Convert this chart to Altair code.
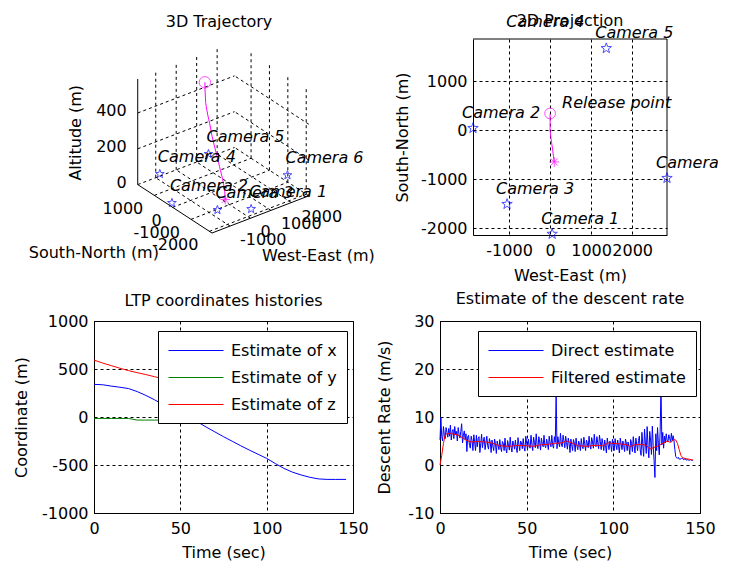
import math
import altair as alt
import numpy as np
import pandas as pd

FONT = "DejaVu Sans"
FS = 16
BLUE, GREEN, RED, MAGENTA = "#0000ff", "#008000", "#ff0000", "#ff00ff"

# ------------------------------------------------------------------ data
cam_names = ["Camera 1", "Camera 2", "Camera 3", "Camera 4", "Camera 5", "Camera 6"]
cam_east = [50, -1880, -1050, -800, 1370, 2850]
cam_north = [-2120, 40, -1510, 1900, 1670, -980]
cam_alt = [48, 22, 50, 12, 44, 38]

ltp_t = [0, 5, 10, 15, 20, 25, 30, 35, 40, 45, 50, 55, 60, 65, 70, 75, 80, 85, 90, 95,
         100, 105, 110, 115, 120, 125, 130, 135, 140, 146]
ltp_x = [340, 336, 322, 310, 296, 265, 225, 180, 130, 80, 30, -12, -52, -105, -155, -205,
         -252, -300, -345, -388, -431, -485, -535, -575, -604, -628, -645, -650, -650, -650]
ltp_y = [-15, -15, -15, -15, -15, -32, -32, -32, -32, -32, -32, -32, -32, -32, -12, -10,
         -2, -2, -2, -2, -2, -2, -2, -2, -2, -2, -2, -2, -2, -2]
ltp_z = [593, 562, 535, 508, 483, 462, 442, 420, 400, 380, 358, 335, 315, 292, 270, 250,
         230, 210, 190, 170, 150, 128, 105, 85, 65, 45, 25, 8, 0, 0]
traj_east = [0, 0, 0, 0, 0, 0, 0, 0, 0, 0, 0, 0, 5, 12, 20, 28, 36, 44, 52, 60, 67, 75,
             82, 88, 93, 97, 99, 100, 100, 100]

# direct descent-rate estimate, one value every 0.5 s from t = 0
rate_direct = [
    5.2, 10.0, 6.0, 5.0, 8.0, 6.2, 5.5, 7.8, 6.8, 5.8,
    7.6, 6.0, 8.3, 5.2, 6.9, 7.4, 5.5, 8.0, 6.3, 7.0,
    5.0, 7.8, 6.4, 5.6, 7.0, 8.6, 4.6, 6.2, 7.1, 5.3,
    6.5, 2.8, 5.9, 6.2, 4.1, 3.5, 6.0, 5.1, 3.0, 6.3,
    4.8, 3.0, 6.2, 3.8, 5.5, 5.9, 2.6, 4.4, 6.4, 3.6,
    5.0, 5.8, 3.2, 4.6, 6.0, 4.0, 3.3, 5.5, 4.7, 2.6,
    5.2, 3.9, 3.0, 5.4, 4.4, 2.4, 5.0, 4.1, 3.2, 5.3,
    3.6, 2.8, 4.9, 4.5, 3.0, 5.6, 3.4, 2.5, 5.1, 4.2,
    3.1, 5.8, 3.8, 2.7, 5.0, 4.4, 3.3, 5.2, 3.6, 2.6,
    5.7, 4.3, 3.0, 5.0, 4.6, 3.4, 5.5, 3.7, 2.9, 6.0,
    4.5, 3.2, 5.4, 4.0, 3.5, 6.2, 4.3, 3.0, 5.8, 4.7,
    3.6, 6.5, 4.2, 3.4, 5.9, 4.8, 3.1, 5.6, 4.4, 3.8,
    6.2, 4.0, 3.6, 5.4, 4.5, 3.2, 6.0, 4.6, 3.8, 6.2,
    4.1, 3.5, 5.9, 4.7, 14.6, 3.4, 5.9, 4.6, 3.8, 6.6,
    4.4, 3.8, 6.2, 5.0, 3.6, 6.0, 4.7, 3.3, 5.6, 4.5,
    2.6, 5.4, 4.2, 3.0, 5.3, 4.6, 2.8, 5.6, 4.0, 3.2,
    5.0, 4.3, 3.0, 5.5, 3.9, 3.4, 5.8, 4.4, 3.0, 5.2,
    4.5, 3.6, 6.0, 4.2, 3.3, 5.7, 4.8, 3.5, 6.4, 4.3,
    3.8, 5.9, 4.6, 3.4, 6.2, 4.9, 3.2, 5.5, 4.4, 3.0,
    5.2, 4.1, 2.5, 5.6, 4.3, 3.2, 5.0, 4.5, 2.8, 5.4,
    4.0, 3.0, 5.5, 4.2, 3.2, 5.2, 3.9, 2.5, 5.6, 4.4,
    3.2, 5.0, 4.1, 2.8, 5.4, 4.6, 3.0, 4.8, 3.9, 2.2,
    5.3, 4.5, 2.8, 5.9, 4.0, 2.5, 5.6, 4.3, 3.0, 5.1,
    6.0, 3.1, 2.0, 6.8, 4.2, 1.8, 7.5, 4.6, 2.4, 8.0,
    3.9, 1.5, 7.0, 5.2, 2.2, 8.1, 4.0, 1.0, -2.6, 6.5,
    3.0, 7.8, 4.4, 2.1, 6.9, 16.2, 4.2, 6.8, 3.5, 6.0,
    4.6, 6.5, 5.2, 4.8, 6.3, 5.5, 4.9, 6.6, 5.0, 6.1,
    5.0, 3.2, 1.8, 1.5, 1.4, 1.6, 1.2, 1.3, 1.2, 1.4,
    1.4, 1.1, 1.2, 1.3, 1.0, 1.1, 1.1, 1.0, 1.0, 1.1,
    1.0, 1.0, 1.0]
RATE_STEP = 0.5
rate_t = [i * RATE_STEP for i in range(len(rate_direct))]

filt_t = [0, 1, 2, 3, 4, 6, 8, 10, 12, 14, 16, 18, 22, 26, 30, 34, 40, 46, 50, 54, 58, 62,
          66, 70, 73, 76, 80, 85, 90, 94, 97, 100, 104, 108, 110, 112, 116, 119, 121, 123,
          126, 129, 131, 133, 135, 136, 137, 138, 139, 140, 142, 144, 146]
filt_v = [0, 2.0, 4.5, 6.3, 6.5, 6.6, 6.4, 6.3, 5.9, 5.4, 5.0, 4.8, 4.9, 4.8, 4.6, 4.0, 3.9,
          4.1, 4.0, 3.9, 4.2, 4.3, 4.5, 4.6, 5.0, 4.6, 4.0, 3.9, 4.1, 4.0, 4.6, 4.5, 4.4, 4.2,
          3.8, 4.2, 4.3, 4.1, 3.3, 3.6, 4.0, 4.6, 5.0, 4.7, 5.3, 5.2, 4.5, 3.2, 2.0, 1.5, 1.3,
          1.2, 1.0]

ticks_we = [-1000, 0, 1000, 2000]
ticks_sn = [-2000, -1000, 0, 1000]
ticks_alt = [0, 200, 400]
ticks_time = [0, 50, 100, 150]
ticks_coord = [-1000, -500, 0, 500, 1000]
ticks_rate = [-10, 0, 10, 20, 30]

# ------------------------------------------------------------------ layout (page pixels)
EDGE = 10                                   # left / top edge of the drawing
PBX, PBY = 93, 321                          # LTP frame origin
WB1, WB2, HB = 259, 260, 192                # bottom panels
P3X, P3Y, W3, H3 = 93, 39, 259, 196         # 3D cell
COL2 = 439                                  # second grid column
P2X, W2, H2 = 472, 194, 196                 # 2D frame
INSET = P2X - COL2                          # 2D frame inset inside its cell
W2C = INSET + W2
COLSP = COL2 - (PBX + WB1)
ROWSP = PBY - (P3Y + H3)

X2D = (-1880, 2850)
Y2D = (-2140, 1860)

# 3D view (MATLAB default az=-37.5, el=30), normalised box
XL = (-1880, 2850)
YL = (-2140, 1900)
ZL = (0, 590)
FX, FY, S3 = 211.0, 233.0, 122.0
AZ, EL = -37.5, 30.0


def proj(x, y, z):
    u = (np.asarray(x, float) - XL[0]) / (XL[1] - XL[0])
    v = (np.asarray(y, float) - YL[0]) / (YL[1] - YL[0])
    w = (np.asarray(z, float) - ZL[0]) / (ZL[1] - ZL[0])
    az, el = math.radians(AZ), math.radians(EL)
    rx, ry = math.cos(az), math.sin(az)
    ux, uy, uz = -math.sin(el) * math.sin(az), math.sin(el) * math.cos(az), math.cos(el)
    px = FX + S3 * (rx * u + ry * v)
    py = FY - S3 * (ux * u + uy * v + uz * w)
    return px, py


def star_path():
    pts = []
    for k in range(10):
        a = -math.pi / 2 + k * math.pi / 5
        r = 1.0 if k % 2 == 0 else 0.40
        pts.append((r * math.cos(a), r * math.sin(a)))
    return "M" + "L".join(f"{x:.3f},{y:.3f}" for x, y in pts) + "Z"


STAR = star_path()
ASTER = "M-1,0L1,0M0,-1L0,1M-0.7,-0.7L0.7,0.7M-0.7,0.7L0.7,-0.7"

# ------------------------------------------------------------------ 3D panel (pixel scale)
SX = alt.Scale(domain=[P3X, P3X + W3], nice=False, zero=False)
SY = alt.Scale(domain=[P3Y, P3Y + H3], nice=False, zero=False, reverse=True)


def PXe(f):
    return alt.X(f, type="quantitative", scale=SX, axis=None)


def PYe(f):
    return alt.Y(f, type="quantitative", scale=SY, axis=None)


def seg_frame(segs):
    a = np.array(segs, float)
    p1x, p1y = proj(a[:, 0], a[:, 1], a[:, 2])
    p2x, p2y = proj(a[:, 3], a[:, 4], a[:, 5])
    return pd.DataFrame({"px": p1x, "py": p1y, "px2": p2x, "py2": p2y})


grid_segs = []
for xv in ticks_we:
    grid_segs.append((xv, YL[0], ZL[0], xv, YL[1], ZL[0]))
    grid_segs.append((xv, YL[1], ZL[0], xv, YL[1], ZL[1]))
for yv in ticks_sn:
    grid_segs.append((XL[0], yv, ZL[0], XL[1], yv, ZL[0]))
    grid_segs.append((XL[1], yv, ZL[0], XL[1], yv, ZL[1]))
for zv in ticks_alt:
    grid_segs.append((XL[0], YL[1], zv, XL[1], YL[1], zv))
    grid_segs.append((XL[1], YL[0], zv, XL[1], YL[1], zv))
axis_segs = [
    (XL[0], YL[0], ZL[0], XL[1], YL[0], ZL[0]),
    (XL[0], YL[0], ZL[0], XL[0], YL[1], ZL[0]),
    (XL[0], YL[1], ZL[0], XL[0], YL[1], ZL[1]),
]

grid_df = seg_frame(grid_segs)
axis_df = seg_frame(axis_segs)

zx, zy = proj([XL[0]] * len(ticks_alt), [YL[1]] * len(ticks_alt), ticks_alt)
zlab = pd.DataFrame({"px": zx, "py": zy, "txt": [str(v) for v in ticks_alt]})
yx, yy = proj([XL[0]] * len(ticks_sn), ticks_sn, [ZL[0]] * len(ticks_sn))
ylab = pd.DataFrame({"px": yx, "py": yy, "txt": [str(v) for v in ticks_sn]})
xx, xy = proj(ticks_we, [YL[0]] * len(ticks_we), [ZL[0]] * len(ticks_we))
xlab = pd.DataFrame({"px": xx, "py": xy, "txt": [str(v) for v in ticks_we]})

tx, ty = proj(traj_east, ltp_x, ltp_z)
traj3 = pd.DataFrame({"px": tx, "py": ty, "o": range(len(tx))})
rel3 = traj3.iloc[[0]]
land3 = traj3.iloc[[-1]]

cx, cy = proj(cam_east, cam_north, cam_alt)
cams3 = pd.DataFrame({"px": cx, "py": cy, "name": cam_names})

snx, sny = proj(XL[0], (YL[0] + YL[1]) / 2, ZL[0])
wex, wey = proj((XL[0] + XL[1]) / 2, YL[0], ZL[0])
alx, aly = proj(XL[0], YL[1], (ZL[0] + ZL[1]) / 2)
titles3 = pd.DataFrame({
    "px": [float(snx) - 81, float(wex) + 58],
    "py": [float(sny) + 44, float(wey) + 42],
    "txt": ["South-North (m)", "West-East (m)"]})
alt3 = pd.DataFrame({"px": [float(alx) - 62], "py": [float(aly) + 1], "txt": ["Altitude (m)"]})

base_txt = dict(font=FONT, fontSize=FS, color="black")
one = pd.DataFrame({"a": [0]})

g3 = [
    # invisible extent marker pinning the top edge of the drawing
    alt.Chart(one).mark_rule(opacity=0).encode(
        x=alt.value(0), y=alt.value(EDGE - P3Y), y2=alt.value(EDGE - P3Y + 5)),
    alt.Chart(grid_df).mark_rule(color="black", strokeWidth=1, strokeDash=[3, 3]).encode(
        x=PXe("px"), y=PYe("py"), x2="px2", y2="py2"),
    alt.Chart(axis_df).mark_rule(color="black", strokeWidth=1).encode(
        x=PXe("px"), y=PYe("py"), x2="px2", y2="py2"),
    alt.Chart(zlab).mark_text(align="right", baseline="middle", dx=-11, dy=-2, **base_txt).encode(
        x=PXe("px"), y=PYe("py"), text="txt:N"),
    alt.Chart(ylab).mark_text(align="right", baseline="middle", dx=-11, dy=14, **base_txt).encode(
        x=PXe("px"), y=PYe("py"), text="txt:N"),
    alt.Chart(xlab).mark_text(align="left", baseline="middle", dx=10, dy=14, **base_txt).encode(
        x=PXe("px"), y=PYe("py"), text="txt:N"),
    alt.Chart(titles3).mark_text(align="center", baseline="middle", **base_txt).encode(
        x=PXe("px"), y=PYe("py"), text="txt:N"),
    alt.Chart(alt3).mark_text(align="center", baseline="middle", angle=270, **base_txt).encode(
        x=PXe("px"), y=PYe("py"), text="txt:N"),
    alt.Chart(traj3).mark_line(color=MAGENTA, strokeWidth=1).encode(
        x=PXe("px"), y=PYe("py"), order="o:Q"),
    alt.Chart(rel3).mark_point(shape="circle", filled=False, color=MAGENTA, size=130, strokeWidth=1).encode(
        x=PXe("px"), y=PYe("py")),
    alt.Chart(land3).mark_point(shape=ASTER, filled=False, color=MAGENTA, size=90, strokeWidth=1).encode(
        x=PXe("px"), y=PYe("py")),
    alt.Chart(cams3).mark_point(shape=STAR, filled=False, color=BLUE, size=85, strokeWidth=1).encode(
        x=PXe("px"), y=PYe("py")),
    alt.Chart(cams3).mark_text(align="left", baseline="middle", dx=-2, dy=-17, fontStyle="italic",
                               **base_txt).encode(x=PXe("px"), y=PYe("py"), text="name:N"),
    alt.Chart(pd.DataFrame({"txt": ["3D Trajectory"]})).mark_text(
        align="center", baseline="middle", **base_txt).encode(
        x=alt.value(218 - P3X), y=alt.value(22 - P3Y), text="txt:N"),
]
p3d = alt.layer(*g3).properties(width=W3, height=H3, view=alt.ViewBackground(strokeOpacity=0))

# ------------------------------------------------------------------ axis helpers
LBL = "'' + datum.value"


def ax(title, values, orient, tpad, lpad, offset=0):
    return alt.Axis(title=title, values=values, orient=orient, labelExpr=LBL, grid=True,
                    ticks=False, labelFlush=False, labelOverlap=False, labelPadding=lpad,
                    titlePadding=tpad, offset=offset)


def ttl(text, offset):
    return alt.TitleParams(text=text, font=FONT, fontSize=FS, fontWeight="normal",
                           color="black", offset=offset, frame="group", anchor="middle")

# ------------------------------------------------------------------ 2D panel
S2X = alt.Scale(domain=list(X2D), range=[INSET, W2C], nice=False, zero=False)
S2Y = alt.Scale(domain=list(Y2D), nice=False, zero=False)
traj2 = pd.DataFrame({"e": traj_east, "n": ltp_x, "o": range(len(ltp_x))})
cams2 = pd.DataFrame({"e": cam_east, "n": cam_north, "name": cam_names})
rel2 = pd.DataFrame({"e": [traj_east[0]], "n": [ltp_x[0]], "txt": ["Release point"]})
land2 = pd.DataFrame({"e": [traj_east[-1]], "n": [ltp_x[-1]]})

E2 = alt.X("e:Q", scale=S2X, axis=ax("West-East (m)", ticks_we, "bottom", 9, 7))
N2 = alt.Y("n:Q", scale=S2Y, axis=ax("South-North (m)", ticks_sn, "left", 10, 6, -INSET))
inside = (f"datum.e >= {X2D[0]} && datum.e <= {X2D[1]} && "
          f"datum.n >= {Y2D[0]} && datum.n <= {Y2D[1]}")

p2d = alt.layer(
    alt.Chart(traj2).mark_line(color=MAGENTA, strokeWidth=1).encode(x=E2, y=N2, order="o:Q"),
    # top and right edges of the frame (bottom/left come from the axis lines)
    alt.Chart(one).mark_rule(color="black", strokeWidth=1).encode(
        x=alt.value(INSET), x2=alt.value(W2C), y=alt.value(0)),
    alt.Chart(one).mark_rule(color="black", strokeWidth=1).encode(
        x=alt.value(W2C), y=alt.value(0), y2=alt.value(H2)),
    alt.Chart(rel2).mark_point(shape="circle", filled=False, color=MAGENTA, size=115, strokeWidth=1).encode(x=E2, y=N2),
    alt.Chart(land2).mark_point(shape=ASTER, filled=False, color=MAGENTA, size=100, strokeWidth=1).encode(x=E2, y=N2),
    alt.Chart(cams2).transform_filter(inside).mark_point(
        shape=STAR, filled=False, color=BLUE, size=120, strokeWidth=1).encode(x=E2, y=N2),
    alt.Chart(cams2).mark_text(align="left", baseline="middle", dx=-11, dy=-15, fontStyle="italic",
                               **base_txt).encode(x=E2, y=N2, text="name:N"),
    alt.Chart(rel2).mark_text(align="left", baseline="middle", dx=12, dy=-10, fontStyle="italic",
                              **base_txt).encode(x=E2, y=N2, text="txt:N"),
    alt.Chart(pd.DataFrame({"txt": ["2D Projection"]})).mark_text(
        align="center", baseline="middle", **base_txt).encode(
        x=alt.value(INSET + W2 / 2), y=alt.value(21 - P3Y), text="txt:N"),
).properties(width=W2C, height=H2, view=alt.ViewBackground(strokeOpacity=0))

# ------------------------------------------------------------------ legends
SYMW = 55.0                      # drawn legend line length (px)
SYMS = 18.0                      # nominal symbol box (px)
HALF = SYMW / SYMS
LINE_SYM = f"M-{HALF:.3f},0L{HALF:.3f},0"


def legend(lx, ly):
    return alt.Legend(title=None, orient="none", legendX=lx, legendY=ly, symbolType=LINE_SYM,
                      symbolSize=SYMS * SYMS, symbolStrokeWidth=1,
                      symbolOffset=SYMW / 2 - SYMS / 2,
                      labelFont=FONT, labelFontSize=FS, labelColor="black",
                      labelOffset=SYMW - SYMS - (SYMW / 2 - SYMS / 2) + 7,
                      padding=10, strokeColor="black", fillColor="white",
                      rowPadding=9, labelLimit=400, cornerRadius=0)

# ------------------------------------------------------------------ LTP histories
ltp_names = ["Estimate of x", "Estimate of y", "Estimate of z"]
ltp_cs = alt.Scale(domain=ltp_names, range=[BLUE, GREEN, RED])

TX = alt.X("t:Q", scale=alt.Scale(domain=[0, 150], nice=False, zero=False),
           axis=ax("Time (sec)", ticks_time, "bottom", 8, 7))
CY = alt.Y("v:Q", scale=alt.Scale(domain=[-1000, 1000], nice=False, zero=False),
           axis=ax("Coordinate (m)", ticks_coord, "left", 12, 6))
ltp_layers = [alt.Chart(one).mark_rule(opacity=0).encode(
    x=alt.value(EDGE - PBX), y=alt.value(0), y2=alt.value(5))]
for name, vals in zip(ltp_names, [ltp_x, ltp_y, ltp_z]):
    d = pd.DataFrame({"t": ltp_t, "v": vals, "series": name})
    ltp_layers.append(alt.Chart(d).mark_line(strokeWidth=1).encode(
        x=TX, y=CY, color=alt.Color("series:N", scale=ltp_cs, legend=legend(64, 10))))
pltp = alt.layer(*ltp_layers).properties(width=WB1, height=HB,
                                          title=ttl("LTP coordinates histories", 4))

# ------------------------------------------------------------------ descent rate
rate_names = ["Direct estimate", "Filtered estimate"]
rate_cs = alt.Scale(domain=rate_names, range=[BLUE, RED])
RX = alt.X("t:Q", scale=alt.Scale(domain=[0, 150], nice=False, zero=False),
           axis=ax("Time (sec)", ticks_time, "bottom", 8, 7))
RY = alt.Y("v:Q", scale=alt.Scale(domain=[-10, 30], nice=False, zero=False),
           axis=ax("Descent Rate (m/s)", ticks_rate, "left", 15, 6))
d_direct = pd.DataFrame({"t": rate_t, "v": rate_direct, "series": rate_names[0]})
d_filt = pd.DataFrame({"t": filt_t, "v": filt_v, "series": rate_names[1]})
pdesc = alt.layer(
    alt.Chart(d_direct).mark_line(strokeWidth=1).encode(
        x=RX, y=RY, color=alt.Color("series:N", scale=rate_cs, legend=legend(38, 10))),
    alt.Chart(d_filt).mark_line(strokeWidth=1).encode(
        x=RX, y=RY, color=alt.Color("series:N", scale=rate_cs, legend=legend(38, 10))),
).properties(width=WB2, height=HB, title=ttl("Estimate of the descent rate", 6))

# ------------------------------------------------------------------ assemble (single 2x2 grid)
chart = alt.ConcatChart(
    concat=[p3d, p2d, pltp, pdesc], columns=2, bounds="flush",
    spacing=alt.RowColnumber(row=ROWSP, column=COLSP),
).resolve_scale(color="independent").resolve_legend(color="independent").properties(
    padding={"left": EDGE - 8, "top": EDGE - 8, "right": -11, "bottom": 0},
    background="white",
).configure(font=FONT).configure_view(
    stroke="black", strokeWidth=1
).configure_axis(
    labelFont=FONT, labelFontSize=FS, labelColor="black", titleFont=FONT, titleFontSize=FS,
    titleFontWeight="normal", titleColor="black", domainColor="black", domainWidth=1,
    gridColor="black", gridDash=[3, 3], gridOpacity=1, gridWidth=1,
).configure_legend(labelFont=FONT)

chart.save("out.html", embed_options={"renderer": "svg", "actions": False})
